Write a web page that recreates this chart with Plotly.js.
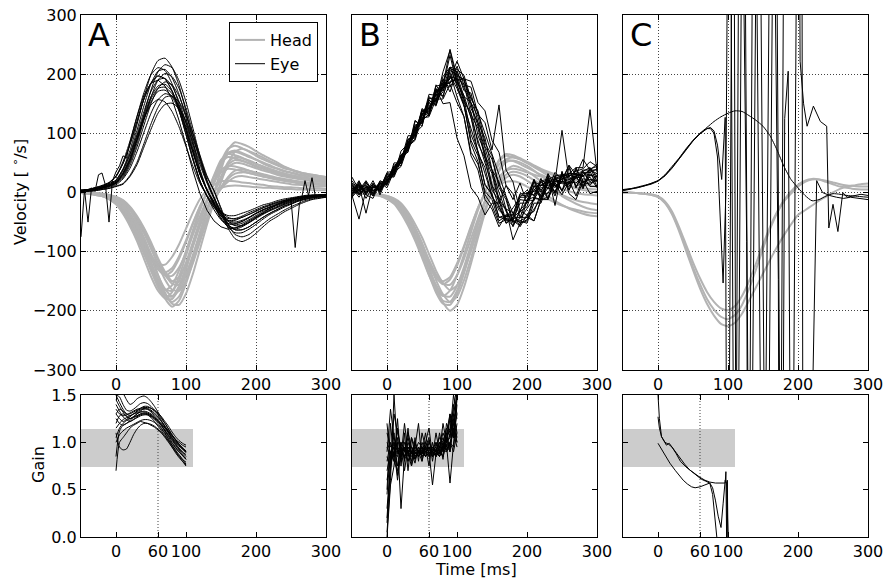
<!DOCTYPE html>
<html><head><meta charset="utf-8">
<script src="https://cdn.plot.ly/plotly-3.0.1.min.js"></script>
<style>html,body{margin:0;padding:0;background:#fff}#chart{width:885px;height:581px}</style>
</head><body><div id="chart"></div>
<script>
// ---------- time bases ----------
const tVel = [-50,-40,-30,-20,-10,0,10,20,30,40,50,60,70,80,90,100,110,120,130,140,150,160,170,180,190,200,210,220,230,240,250,260,270,280,290,300];
const tGain = [0,5,10,15,20,25,30,35,40,45,50,55,60,65,70,75,80,85,90,95,100];

// ---------- Panel A: head velocity ----------
const headA = [
 [0,-1,-2,-4,-7,-12,-21,-39,-62,-89,-122,-154,-179,-193,-183,-154,-116,-73,-33,0,38,72,85,82,77,70,63,57,51,44,39,35,31,28,26,25],
 [-1,-1,-3,-5,-9,-15,-28,-47,-70,-98,-129,-156,-174,-176,-158,-126,-88,-50,-15,15,46,65,69,65,60,55,49,44,40,36,33,30,28,26,25,23],
 [-1,-2,-3,-6,-10,-18,-33,-53,-76,-104,-132,-153,-165,-157,-132,-99,-63,-28,0,27,51,60,58,54,49,44,40,36,32,29,27,25,23,22,20,20],
 [-1,-2,-4,-6,-11,-19,-33,-49,-68,-89,-108,-121,-122,-109,-88,-61,-34,-11,4,13,19,20,19,17,16,14,13,11,10,9,9,8,7,7,7,6],
 [-1,-1,-3,-5,-8,-15,-28,-45,-64,-88,-112,-130,-140,-133,-112,-84,-53,-24,0,20,38,45,44,41,37,33,30,27,24,22,20,18,17,16,15,15],
 [0,-1,-2,-3,-5,-9,-17,-30,-48,-69,-95,-120,-140,-150,-143,-120,-90,-57,-26,0,25,47,55,53,50,45,41,37,33,30,27,25,23,21,20,19],
 [-1,-1,-3,-5,-9,-16,-29,-48,-72,-101,-132,-160,-179,-180,-162,-130,-91,-51,-16,18,52,74,79,75,69,62,56,51,46,41,38,34,32,30,28,26],
 [0,-1,-1,-3,-5,-8,-14,-26,-44,-66,-93,-122,-147,-164,-166,-149,-119,-83,-47,-14,17,49,69,74,70,65,59,53,48,43,39,35,32,30,28,26],
 [0,0,-1,-2,-4,-8,-14,-25,-42,-62,-87,-114,-138,-154,-156,-140,-112,-78,-44,-14,8,23,32,34,33,30,27,25,22,20,18,16,15,14,13,12],
 [-1,-1,-3,-5,-8,-15,-27,-43,-62,-85,-108,-126,-135,-128,-108,-81,-51,-23,0,29,55,65,63,59,53,48,44,39,35,32,29,27,25,23,22,21],
 [0,-1,-2,-4,-6,-11,-19,-35,-56,-81,-110,-140,-163,-175,-166,-140,-105,-67,-30,0,23,43,50,49,45,41,37,34,30,27,25,23,21,19,18,17],
 [0,-1,-2,-3,-5,-9,-17,-30,-51,-76,-106,-139,-169,-188,-190,-171,-137,-96,-54,-17,9,26,37,39,37,34,31,28,25,23,21,19,17,16,15,14],
 [0,-1,-2,-4,-7,-12,-22,-38,-57,-79,-104,-125,-140,-141,-127,-102,-71,-40,-12,3,8,11,12,11,10,9,8,8,7,6,6,5,5,4,4,4],
 [0,-1,-2,-4,-6,-11,-20,-37,-59,-85,-117,-148,-172,-185,-176,-148,-111,-70,-31,0,27,51,60,58,54,49,44,40,36,32,29,27,25,23,22,20],
 [-1,-1,-3,-5,-8,-14,-26,-44,-66,-93,-122,-147,-164,-166,-149,-119,-83,-47,-14,16,47,67,71,67,62,56,51,46,41,37,34,31,28,27,25,24],
 [0,0,-1,-2,-4,-7,-13,-24,-40,-60,-84,-111,-134,-150,-151,-136,-109,-76,-43,-13,6,18,26,28,26,24,22,20,18,16,14,13,12,11,10,10],
 [-1,-2,-4,-6,-11,-20,-36,-57,-82,-112,-142,-166,-178,-169,-142,-107,-68,-30,0,18,34,40,39,36,33,30,27,24,22,20,18,16,15,14,13,13]
];

// ---------- Panel A: eye velocity ----------
const eyeA = [
 [3,5,7,10,15,21,40,71,115,160,200,223,227,212,181,137,87,39,5,-19,-40,-52,-55,-52,-46,-39,-32,-27,-22,-18,-14,-10,-8,-7,-6,-4],
 [3,4,6,9,14,19,37,65,105,147,184,205,208,194,166,126,80,36,4,-20,-43,-56,-60,-56,-50,-42,-35,-29,-24,-19,-15,-11,-9,-7,-6,-5],
 [4,5,8,11,16,27,49,81,120,158,185,197,192,172,139,98,55,19,-6,-24,-37,-44,-44,-40,-34,-29,-24,-20,-16,-13,-10,-8,-6,-5,-4,-4],
 [3,3,5,7,10,15,25,46,77,114,150,176,187,182,163,132,93,52,18,-9,-34,-54,-63,-63,-58,-50,-42,-35,-29,-23,-19,-14,-11,-9,-7,-6],
 [3,4,5,8,12,16,32,56,90,126,158,176,178,167,142,108,68,31,4,-17,-36,-47,-50,-47,-42,-35,-29,-25,-20,-16,-13,-10,-8,-6,-5,-4],
 [3,3,4,6,9,13,23,41,69,102,134,157,167,163,146,118,83,47,16,-10,-37,-58,-68,-68,-62,-54,-45,-37,-31,-25,-20,-15,-12,-9,-8,-6],
 [3,4,6,9,12,21,39,65,96,126,148,157,153,137,111,78,44,15,-5,-21,-33,-39,-39,-35,-31,-26,-21,-18,-14,-11,-9,-7,-5,-4,-4,-3],
 [2,2,3,5,7,10,14,27,47,77,107,134,149,151,142,121,92,58,26,3,-28,-60,-78,-83,-78,-69,-58,-48,-41,-33,-27,-21,-16,-12,-10,-8],
 [3,4,5,8,11,16,27,50,83,123,161,190,201,196,176,142,100,56,19,-8,-31,-48,-56,-56,-51,-44,-37,-31,-26,-21,-17,-13,-10,-8,-6,-5],
 [4,5,8,12,17,28,52,87,129,169,199,211,206,184,149,105,59,20,-6,-25,-40,-47,-47,-42,-37,-31,-26,-21,-17,-14,-11,-8,-6,-5,-4,-4],
 [3,4,5,8,11,16,31,54,88,123,153,171,173,162,138,105,67,30,4,-21,-45,-58,-62,-58,-51,-43,-36,-30,-25,-20,-16,-12,-9,-7,-6,-5],
 [3,4,6,9,13,18,34,60,98,137,171,190,193,180,154,117,74,33,4,-18,-37,-49,-52,-49,-43,-36,-30,-25,-21,-17,-13,-10,-8,-6,-5,-4],
 [3,4,6,8,12,17,29,53,89,132,173,204,216,211,189,153,108,61,21,-9,-34,-54,-63,-63,-58,-50,-42,-35,-29,-23,-19,-14,-11,-9,-7,-6],
 [3,4,6,8,12,17,32,57,93,130,162,180,183,171,146,111,70,31,4,-15,-32,-42,-45,-42,-37,-32,-26,-22,-18,-14,-11,-9,-7,-5,-5,-4],
 [2,2,3,5,7,11,15,29,51,83,116,144,161,163,153,130,99,63,28,3,-26,-54,-71,-75,-71,-62,-53,-44,-37,-30,-24,-19,-14,-11,-9,-8],
 [4,5,8,11,16,27,49,81,120,158,185,197,192,172,139,98,55,19,-7,-29,-46,-53,-53,-49,-42,-35,-29,-24,-20,-16,-12,-9,-7,-6,-5,-4]
];
const tEyeANoisy = [-50,-45,-40,-35,-30,-25,-20,-15,-10,-5,0,5,10,15,20,30,40,50,60,70,80,90,100,110,120,130,140,150,160,170,180,190,200,210,220,230,240,250,256,262,266,270,275,280,285,290,300];
const eyeANoisy = [-75,5,-50,8,2,30,33,12,-50,20,35,45,62,58,85,128,165,185,190,180,158,122,80,36,-2,-30,-48,-58,-62,-60,-55,-48,-40,-33,-26,-20,-15,-12,-93,-20,-5,20,-5,25,-8,-6,-4];

// ---------- Panel B: head velocity ----------
const headB = [
 [0,-1,-2,-3,-5,-9,-17,-30,-51,-76,-106,-139,-169,-188,-190,-171,-137,-96,-54,-17,12,36,51,54,51,45,37,28,20,12,6,2,-1,-3,-4,-5],
 [0,0,-1,-2,-4,-6,-11,-20,-37,-59,-85,-117,-148,-172,-185,-176,-148,-111,-70,-31,0,20,38,45,42,36,28,19,10,2,-6,-13,-19,-24,-28,-30],
 [0,-1,-2,-4,-6,-11,-19,-35,-56,-81,-110,-140,-163,-175,-166,-140,-105,-67,-30,0,29,55,65,63,58,52,46,40,35,31,27,24,21,19,17,15],
 [0,0,-1,-2,-3,-6,-10,-18,-33,-53,-76,-104,-132,-153,-165,-157,-132,-99,-63,-28,0,13,25,30,27,20,12,3,-6,-14,-21,-27,-32,-36,-39,-40],
 [0,-1,-2,-3,-5,-9,-17,-30,-48,-69,-95,-120,-140,-150,-143,-120,-90,-57,-26,0,25,47,55,53,48,42,36,30,25,20,16,12,9,7,6,5],
 [0,0,-1,-2,-4,-8,-14,-25,-42,-62,-87,-114,-138,-154,-156,-140,-112,-78,-44,-14,9,26,37,40,38,34,30,27,25,23,22,21,21,20,20,20],
 [0,0,-1,-2,-4,-7,-12,-22,-40,-64,-92,-126,-160,-186,-200,-190,-160,-120,-76,-34,0,16,30,35,33,28,21,14,7,1,-4,-9,-13,-16,-18,-20],
 [0,-1,-1,-3,-5,-9,-15,-28,-47,-70,-98,-129,-156,-174,-176,-158,-126,-88,-50,-15,13,39,56,59,56,50,43,36,29,22,16,11,7,4,2,0],
 [0,-1,-2,-3,-5,-9,-16,-29,-49,-74,-104,-136,-164,-183,-185,-166,-133,-93,-52,-16,4,13,18,19,16,10,3,-4,-11,-17,-22,-26,-29,-32,-34,-35],
 [0,-1,-2,-3,-5,-9,-17,-31,-50,-71,-98,-124,-144,-155,-147,-124,-93,-59,-26,0,28,53,62,60,56,50,44,38,33,28,24,20,17,14,12,10]
];

// ---------- Panel B: eye velocity (noisy) ----------
const eyeB = [
 [14,-2,10,-6,16,18,42,52,86,98,132,140,170,176,212,180,148,82,52,-4,-22,-52,-46,-48,-12,-14,18,-8,26,-2,32,4,28,6,36,10],
 [2,14,-10,10,4,26,34,60,76,108,122,146,156,182,186,192,158,128,66,42,-8,-22,-52,-42,-32,0,-4,24,-12,28,2,42,8,32,30,26],
 [8,-8,10,2,12,16,38,50,90,94,138,136,180,182,242,196,192,142,118,62,38,-12,-28,-58,-32,-24,10,12,20,22,26,32,30,28,40,44],
 [-5,-45,4,14,2,22,30,62,68,120,116,156,146,186,178,198,162,152,96,68,12,-8,-48,-48,-56,-12,-14,20,16,24,28,28,36,40,52,44],
 [16,2,14,-4,20,14,40,54,96,96,142,132,176,150,152,92,62,8,-8,-38,-18,-18,12,-12,16,-18,22,-12,30,-22,36,-2,-12,20,-2,2],
 [-4,16,-2,10,6,34,36,58,72,122,112,162,152,192,170,206,172,168,118,92,38,18,-28,-34,-58,-38,-32,-2,-2,26,2,32,32,28,28,32],
 [12,-4,10,8,10,14,42,58,80,90,140,134,182,160,212,208,198,158,138,84,62,8,-12,-52,-48,-42,-8,-12,18,18,105,22,28,38,38,32],
 [-2,12,-35,14,4,30,30,62,76,114,118,160,154,204,240,188,158,98,68,12,-2,-42,-44,-46,-18,-18,12,-12,22,0,34,4,40,10,30,22],
 [10,-4,10,-6,16,12,50,50,84,102,138,132,166,164,196,192,183,132,108,58,32,-18,-28,-80,-52,-48,-10,-12,18,12,16,14,42,18,22,20],
 [-6,10,2,8,8,32,30,62,78,108,130,158,162,196,212,192,152,136,82,58,4,-14,-52,-44,-42,-12,-8,20,22,28,30,32,42,42,140,34],
 [14,-2,6,0,14,16,46,52,88,104,132,138,174,172,203,162,128,62,38,-12,-28,-58,-38,-38,-4,-6,22,0,32,10,18,22,28,8,42,18],
 [0,14,-4,16,0,22,28,70,82,112,120,166,164,186,184,213,182,178,132,118,72,148,38,18,-32,-38,-48,-12,-8,22,18,16,24,28,38,38],
 [20,2,18,-2,16,14,34,44,78,88,126,128,158,158,183,152,128,68,48,2,-12,-48,-40,-42,-8,-8,18,12,12,18,22,28,12,14,16,20],
 [-4,18,0,20,-4,24,40,56,70,100,112,156,148,178,192,222,192,188,152,138,88,68,12,-2,-42,-42,-48,-12,-12,18,18,46,8,36,42,26],
 [26,4,20,2,18,18,42,46,82,100,122,132,170,178,232,182,148,88,62,14,-4,-42,-38,-38,-2,-2,2,8,8,14,-4,18,16,28,10,10],
 [2,20,-4,-10,16,8,36,52,90,92,134,130,172,176,188,190,192,152,128,78,56,14,-8,-48,-48,-52,-18,-18,18,-6,28,30,24,34,34,40],
 [6,12,0,8,14,20,32,58,74,104,126,144,160,176,198,176,146,108,70,30,-6,-30,-42,-26,-8,4,-6,12,20,8,30,14,26,36,18,30],
 [12,0,16,4,6,28,26,54,86,96,136,142,168,188,210,204,176,150,112,74,36,0,-32,-50,-44,-28,-12,6,-10,16,4,20,-6,24,12,28],
 [-8,6,12,-2,10,16,40,64,72,110,118,150,150,180,194,186,164,126,88,46,8,-26,-44,-56,-30,-16,4,18,6,34,22,46,30,56,38,48],
 [4,10,6,12,2,24,44,50,80,106,128,152,158,170,206,200,188,162,134,100,66,30,-6,-36,-52,-46,-28,-10,8,2,20,10,32,16,26,8]
];

// ---------- Panel C: head velocity ----------
const headC = [
 [0,0,-1,-2,-3,-6,-15,-32,-58,-88,-118,-145,-168,-185,-196,-199,-192,-175,-150,-120,-88,-58,-33,-13,2,13,20,23,22,18,14,10,8,6,5,5],
 [0,0,-1,-2,-4,-7,-17,-35,-62,-94,-126,-155,-180,-198,-210,-214,-207,-190,-163,-130,-95,-62,-35,-15,-2,10,18,22,22,20,17,14,12,11,10,10],
 [0,0,-1,-2,-4,-8,-18,-37,-65,-98,-131,-162,-188,-208,-222,-226,-220,-205,-183,-160,-137,-114,-92,-72,-54,-38,-30,-22,-14,-7,0,6,10,12,14,15]
];

// ---------- Panel C: eye velocity ----------
const eyeC1 = [4,6,9,12,15,20,30,44,58,74,88,100,110,120,128,134,138,137,130,122,112,96,72,44,22,8,-5,-14,-12,-6,-2,-3,-5,-6,-7,-8];
const tEyeC2 = [-50,-40,-30,-20,-10,0,10,20,30,40,50,60,70,75,80,85,91,96,99.5,107.6,112.4,121.9,131.4,143.3,155.2,167.1,176.7,181,186,190.9,200.5,203,208,213,222,232,241,244,250,257,264,270,280,290,300];
const eyeC2 = [3,5,8,11,14,19,28,41,56,72,87,99,108,110,104,80,22,127,-900,900,-900,900,-900,900,-900,900,-900,125,205,-900,900,222,150,112,146,120,112,-60,-20,-66,0,-8,-5,-3,-5];
const tEyeC3 = [-50,-40,-30,-20,-10,0,10,20,30,40,50,60,70,75,80,85,89,93,97,101.9,110,117.1,126.7,129,137.1,150.5,162.4,171.9,174,181.4,205,207.6,212,226.7,235,245,255,265,275,285,300];
const eyeC3 = [5,6,8,11,15,20,29,42,57,73,88,100,108,108,100,60,-50,-153,0,900,-900,900,-83,-900,900,-900,900,-147,-900,900,900,-900,-900,20,0,-5,-8,-10,-8,-10,-12];

// ---------- Gain panels ----------
const gainA = [
 [0.7,1.0,1.05,1.1,1.15,1.18,1.2,1.22,1.21,1.2,1.18,1.16,1.13,1.1,1.06,1.02,0.97,0.92,0.87,0.82,0.77],
 [1.5,1.42,1.35,1.3,1.28,1.3,1.33,1.36,1.38,1.38,1.36,1.33,1.3,1.25,1.2,1.14,1.08,1.03,0.98,0.94,0.9],
 [1.1,0.95,0.92,0.93,1.0,1.08,1.14,1.18,1.2,1.2,1.19,1.17,1.14,1.1,1.05,1.0,0.95,0.9,0.86,0.82,0.79],
 [1.3,1.25,1.22,1.24,1.27,1.3,1.32,1.34,1.35,1.35,1.33,1.3,1.26,1.22,1.17,1.12,1.07,1.02,0.98,0.94,0.9],
 [1.2,1.28,1.3,1.28,1.25,1.26,1.28,1.3,1.31,1.3,1.28,1.25,1.22,1.18,1.13,1.08,1.03,0.98,0.93,0.89,0.85],
 [1.45,1.38,1.32,1.27,1.25,1.27,1.3,1.33,1.36,1.37,1.36,1.34,1.31,1.27,1.22,1.17,1.11,1.06,1.02,0.99,0.97],
 [1.0,1.08,1.12,1.15,1.17,1.19,1.21,1.23,1.24,1.24,1.23,1.21,1.18,1.14,1.09,1.03,0.97,0.91,0.85,0.8,0.75],
 [1.5,1.55,1.52,1.45,1.4,1.42,1.46,1.48,1.49,1.47,1.43,1.38,1.32,1.26,1.2,1.14,1.08,1.03,0.98,0.94,0.91],
 [1.25,1.2,1.18,1.2,1.23,1.27,1.3,1.32,1.33,1.32,1.3,1.27,1.23,1.18,1.12,1.06,1.0,0.95,0.9,0.86,0.83],
 [1.35,1.3,1.28,1.29,1.31,1.33,1.35,1.36,1.37,1.36,1.34,1.31,1.27,1.22,1.16,1.1,1.04,0.99,0.94,0.9,0.87],
 [1.15,1.2,1.24,1.26,1.28,1.3,1.31,1.32,1.32,1.31,1.29,1.26,1.22,1.17,1.12,1.07,1.02,0.97,0.92,0.87,0.82],
 [1.4,1.33,1.27,1.24,1.22,1.24,1.27,1.29,1.3,1.3,1.28,1.26,1.23,1.19,1.15,1.11,1.07,1.03,1.0,0.97,0.95],
 [0.85,1.12,1.18,1.2,1.22,1.24,1.26,1.28,1.29,1.29,1.27,1.24,1.2,1.15,1.1,1.04,0.99,0.94,0.9,0.86,0.82],
 [1.5,1.48,1.4,1.34,1.33,1.35,1.38,1.41,1.42,1.41,1.38,1.34,1.29,1.23,1.17,1.11,1.05,1.0,0.96,0.93,0.9],
 [1.05,1.15,1.2,1.23,1.25,1.27,1.28,1.3,1.3,1.29,1.26,1.22,1.17,1.12,1.07,1.01,0.95,0.89,0.84,0.8,0.76],
 [1.3,1.35,1.33,1.3,1.3,1.32,1.34,1.35,1.36,1.35,1.32,1.28,1.24,1.2,1.15,1.1,1.05,1.01,0.97,0.93,0.89]
];
const gainB = [
 [0.05,0.6,1.5,0.9,0.85,0.95,0.8,0.9,0.85,0.92,0.88,0.95,0.9,0.85,0.93,0.88,1.0,0.95,1.1,1.2,1.5],
 [0.3,0.75,0.9,1.0,0.3,0.85,0.9,0.95,0.82,0.9,0.87,0.93,0.9,0.55,0.88,0.95,0.92,1.0,1.05,1.3,1.1],
 [0.9,1.35,1.05,0.95,0.8,1.0,0.9,0.85,0.95,0.88,0.9,0.85,0.92,0.9,0.95,0.85,1.0,0.9,0.95,1.15,1.0],
 [0.6,0.85,0.95,0.88,0.92,0.7,0.95,0.88,0.9,0.85,1.0,0.9,0.88,0.95,0.9,0.93,0.85,0.98,0.57,1.0,1.4],
 [1.0,0.9,0.85,1.15,0.9,0.95,0.85,1.05,0.88,0.9,0.95,0.92,1.02,0.9,0.85,0.95,1.05,0.92,1.0,1.1,0.95],
 [0.2,0.8,0.9,0.85,1.0,0.92,0.8,0.9,1.0,0.85,0.9,0.88,0.95,0.85,0.92,1.0,0.95,1.1,1.3,1.05,1.55],
 [0.8,1.0,0.85,0.9,0.95,0.82,0.9,0.95,0.85,0.9,0.92,0.85,0.88,0.95,0.9,0.85,0.92,0.9,1.0,0.95,1.2],
 [0.45,0.9,0.8,0.7,0.85,0.95,0.88,0.75,0.9,0.85,0.95,0.9,0.85,0.92,1.0,0.88,0.95,1.0,0.9,1.2,1.0],
 [1.1,0.95,1.0,0.9,0.85,0.9,1.05,0.9,0.82,0.95,0.88,1.0,0.92,0.9,0.88,0.95,1.1,1.0,1.25,1.05,1.3],
 [0.7,0.9,0.95,0.6,0.9,0.85,0.95,0.9,0.88,0.92,0.85,0.9,0.95,0.88,0.9,0.85,0.95,0.92,1.0,0.9,1.1],
 [0.15,0.7,1.3,1.1,0.95,0.9,1.1,0.95,0.9,1.0,0.95,0.85,1.0,0.92,0.95,1.05,1.0,1.15,1.05,1.4,1.25],
 [0.95,0.85,0.9,0.95,0.9,0.85,0.92,0.88,0.95,0.9,0.85,0.9,0.95,0.9,0.85,0.9,0.95,1.05,1.15,1.35,1.6],
 [0.5,1.2,0.8,1.25,0.75,1.1,0.7,1.05,0.95,1.2,0.8,1.0,1.15,0.85,1.1,0.9,1.2,1.0,1.3,1.1,1.45],
 [0.85,0.7,1.1,0.65,1.0,0.8,1.15,0.75,1.05,0.8,1.1,0.95,0.75,1.0,0.85,1.1,0.9,1.05,0.95,1.25,1.05],
 [0.0,0.55,0.75,1.05,0.85,1.2,0.9,0.8,1.0,0.9,0.8,0.95,1.05,0.8,1.0,0.9,0.85,1.2,1.1,1.5,1.3],
 [1.2,0.8,1.0,0.75,0.95,0.85,1.0,0.9,0.78,0.95,0.9,1.1,0.85,0.95,0.9,1.0,0.82,1.1,0.9,1.3,1.5]
];
const tGainC1 = [0,2,5,8,12,16,20,25,31,38,45,52,60,67,74,82,90,96,97,98,99,100];
const gainC1 = [1.5,1.25,1.06,1.02,0.97,0.99,0.95,0.9,0.83,0.77,0.71,0.67,0.63,0.6,0.58,0.57,0.57,0.57,0.69,0.0,0.6,0.0];
const tGainC2 = [0,2,5,10,15,20,26,32,40,48,55,62,68,74,78,82,86,90,93,96,98,100];
const gainC2 = [1.27,1.15,1.06,1.0,0.98,0.95,0.88,0.8,0.74,0.69,0.65,0.61,0.59,0.57,0.52,0.39,0.22,0.1,0.35,0.6,0.57,0.0];
const tGainC3 = [0,5,10,17,25,30,36,42,48,53,60,67,74,78,81,84];
const gainC3 = [0.99,0.93,0.86,0.78,0.7,0.65,0.6,0.56,0.53,0.52,0.53,0.55,0.57,0.45,0.2,0.0];

// gain reference band & marker
const bandX = [-50, 110];
const bandY = [0.74, 1.14];
const gainMarkT = 60;

// tick labels
const velTicks = [-300,-200,-100,0,100,200,300];
const velTickText = ['\u2212300','\u2212200','\u2212100','0','100','200','300'];
const timeTicksTop = [0,100,200,300];
const timeTicksBot = [0,60,100,200,300];
const gainTicks = [0,0.5,1.0,1.5];
const gainTickText = ['0.0','0.5','1.0','1.5'];

// ---------- build ----------
const GRAY = '#b3b3b3', BLACK = '#000000';
const FONT = 'DejaVu Sans, sans-serif';
const traces = [];
function add(x, y, xa, ya, color, width, shape, legendName) {
  traces.push({type:'scatter', mode:'lines', x:x, y:y, xaxis:xa, yaxis:ya,
    line:{color:color, width:width, shape:shape, smoothing:0.6},
    hoverinfo:'skip', name: legendName || '', showlegend: !!legendName});
}
headA.forEach((y,i)=>add(tVel, y, 'x', 'y', GRAY, 2, 'spline', i===0?'Head':null));
eyeA.forEach((y,i)=>add(tVel, y, 'x', 'y', BLACK, 1, 'spline', i===0?'Eye':null));
add(tEyeANoisy, eyeANoisy, 'x', 'y', BLACK, 1, 'linear');
headB.forEach(y=>add(tVel, y, 'x2', 'y2', GRAY, 2, 'spline'));
eyeB.forEach(y=>add(tVel, y, 'x2', 'y2', BLACK, 1, 'linear'));
headC.forEach(y=>add(tVel, y, 'x3', 'y3', GRAY, 2, 'spline'));
add(tVel, eyeC1, 'x3', 'y3', BLACK, 1, 'spline');
add(tEyeC2, eyeC2, 'x3', 'y3', BLACK, 1, 'linear');
add(tEyeC3, eyeC3, 'x3', 'y3', BLACK, 1, 'linear');
gainA.forEach(y=>add(tGain, y, 'x4', 'y4', BLACK, 1, 'spline'));
gainB.forEach(y=>add(tGain, y, 'x5', 'y5', BLACK, 1, 'linear'));
add(tGainC1, gainC1, 'x6', 'y6', BLACK, 1, 'linear');
add(tGainC2, gainC2, 'x6', 'y6', BLACK, 1, 'linear');
add(tGainC3, gainC3, 'x6', 'y6', BLACK, 1, 'linear');

const W = 885, H = 581;
const cols = [[81,326],[352,597],[623,868]];
const topPx = [15,370], botPx = [395,537];
const xd = c => [c[0]/W, c[1]/W];
const yd = r => [1 - r[1]/H, 1 - r[0]/H];

const axBase = {showline:true, linecolor:'#000', linewidth:1, mirror:'ticks', ticks:'inside',
  ticklen:5, tickwidth:1, tickcolor:'#000', zeroline:false, fixedrange:true,
  tickfont:{family:FONT, size:16, color:'#000'}};
const gridOn = {showgrid:true, gridcolor:'#444', gridwidth:1, griddash:'1px,2px'};

const layout = {width:W, height:H, margin:{l:0,r:0,t:0,b:0}, paper_bgcolor:'#fff', plot_bgcolor:'#fff',
  font:{family:FONT, size:16, color:'#000'}, showlegend:true,
  legend:{x:318/W, xanchor:'right', y:1-22/H, yanchor:'top', bgcolor:'#fff', bordercolor:'#000', borderwidth:1,
    font:{family:FONT, size:16, color:'#000'}, tracegroupgap:0},
  shapes:[], annotations:[]};

const names = [['xaxis','yaxis','x','y'],['xaxis2','yaxis2','x2','y2'],['xaxis3','yaxis3','x3','y3']];
names.forEach((n,i)=>{
  layout[n[0]] = Object.assign({}, axBase, gridOn, {domain:xd(cols[i]), anchor:n[3], range:[-50,300], tickmode:'array', tickvals:timeTicksTop});
  layout[n[1]] = Object.assign({}, axBase, gridOn, {domain:yd(topPx), anchor:n[2], range:[-300,300], tickmode:'array', tickvals:velTicks, ticktext:velTickText, showticklabels:i===0});
});
const bnames = [['xaxis4','yaxis4','x4','y4'],['xaxis5','yaxis5','x5','y5'],['xaxis6','yaxis6','x6','y6']];
bnames.forEach((n,i)=>{
  layout[n[0]] = Object.assign({}, axBase, {showgrid:false, domain:xd(cols[i]), anchor:n[3], range:[-50,300], tickmode:'array', tickvals:timeTicksBot});
  layout[n[1]] = Object.assign({}, axBase, {showgrid:false, domain:yd(botPx), anchor:n[2], range:[0,1.5], tickmode:'array', tickvals:gainTicks, ticktext:gainTickText, showticklabels:i===0});
  layout.shapes.push({type:'rect', xref:n[2], yref:n[3], x0:bandX[0], x1:bandX[1], y0:bandY[0], y1:bandY[1], fillcolor:'#cccccc', line:{width:0}, layer:'below'});
  layout.shapes.push({type:'line', xref:n[2], yref:n[3], x0:gainMarkT, x1:gainMarkT, y0:0, y1:1.5, line:{color:'#444', width:1, dash:'1px,2px'}, layer:'below'});
});

const ann = (text, xp, yp, size, extra) => Object.assign({text:text, x:xp/W, y:1-yp/H, xref:'paper', yref:'paper', showarrow:false, font:{family:FONT, size:size, color:'#000'}}, extra||{});
layout.annotations.push(ann('A', 86, 14, 32, {xanchor:'left', yanchor:'top'}));
layout.annotations.push(ann('B', 357, 14, 32, {xanchor:'left', yanchor:'top'}));
layout.annotations.push(ann('C', 628, 14, 32, {xanchor:'left', yanchor:'top'}));
layout.annotations.push(ann('Velocity [ <sup>\u2218</sup>/s]', 19, 192, 16, {textangle:-90, xanchor:'center', yanchor:'middle'}));
layout.annotations.push(ann('Gain', 38, 465, 16, {textangle:-90, xanchor:'center', yanchor:'middle'}));
layout.annotations.push(ann('Time [ms]', 476, 569, 16, {xanchor:'center', yanchor:'middle'}));

Plotly.newPlot('chart', traces, layout, {staticPlot:true, displayModeBar:false});
</script>
</body></html>
